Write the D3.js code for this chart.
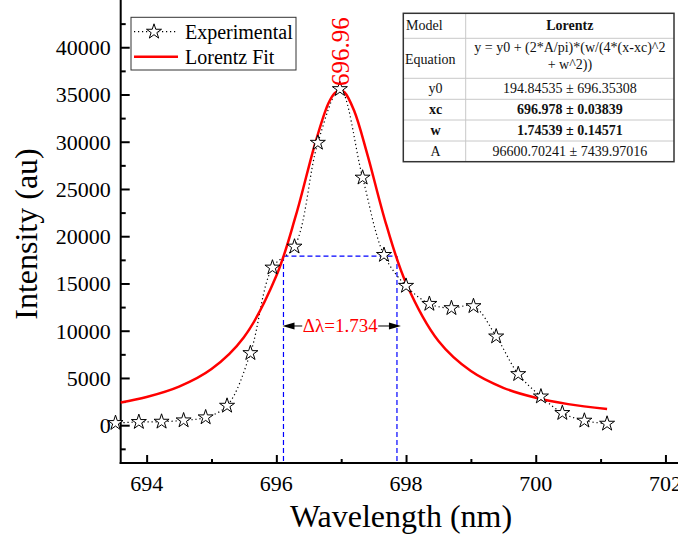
<!DOCTYPE html>
<html>
<head>
<meta charset="utf-8">
<script src="https://cdn.jsdelivr.net/npm/d3@7"></script>
<style>
  body { margin: 0; background: #fff; }
  svg { display: block; font-family: "Liberation Serif", "Times New Roman", serif; }
</style>
</head>
<body>
<svg id="chart" width="678" height="536"></svg>
<script>
// measured points (stars)
const wavelength = [693.52, 693.88, 694.23, 694.57, 694.91, 695.24, 695.60, 695.94, 696.28, 696.64, 696.98, 697.33,
    697.66, 698.00, 698.36, 698.70, 699.04, 699.39, 699.73, 700.08, 700.41, 700.75, 701.10];
const intensity = [230, 340, 370, 510, 830, 2060, 7630, 16680, 18900, 29890, 35570, 26200,
    18020, 14750, 12840, 12390, 12600, 9390, 5410, 3040, 1290, 480, 160];

// red fit curve
const fitWavelength = [693.6, 694.0, 694.5, 695.0, 695.5, 696.0, 696.3, 696.6, 696.8, 696.9, 696.98, 697.05, 697.2,
    697.4, 697.7, 698.0, 698.5, 699.0, 699.5, 700.0, 700.5, 701.1];
const fitIntensity = [2400, 2980, 4080, 5940, 9310, 15810, 22170, 29860, 34020, 35150, 35430, 35240, 33280,
    28750, 21110, 15050, 8910, 5730, 3960, 2910, 2230, 1710];

const xTicks = [694, 696, 698, 700, 702];
const xMinor = [695, 697, 699, 701];
const yTicks = [0, 5000, 10000, 15000, 20000, 25000, 30000, 35000, 40000];
const yMinor = [-2500, 2500, 7500, 12500, 17500, 22500, 27500, 32500, 37500, 42500];

// FWHM box and labels
const fwhmBounds = [696.11, 697.86];
const halfMax = 17900;
const arrowLevel = 10500;
const fwhmLabel = "\u0394\u03bb=1.734";
const peakLabel = "696.96";

const legendItems = ["Experimental", "Lorentz Fit"];
const tableRows = [
    ["y0", "194.84535 \u00b1 696.35308", false],
    ["xc", "696.978 \u00b1 0.03839", true],
    ["w", "1.74539 \u00b1 0.14571", true],
    ["A", "96600.70241 \u00b1 7439.97016", false]
];
const equationLines = ["y = y0 + (2*A/pi)*(w/(4*(x-xc)^2", "+ w^2))"];

const serif = "'Liberation Serif', 'Times New Roman', serif";

let svg = d3.select("#chart");

let xScale = d3.scaleLinear().domain([693.6, 703.6]).range([120.7, 769.2]);
let yScale = d3.scaleLinear().domain([-4000, 45000]).range([463, 0]);

// axes (ticks point inward)
let xAxisG = svg.append("g").attr("transform", "translate(0,463)");
xAxisG.call(d3.axisTop(xScale).tickValues(xTicks).tickSize(8).tickFormat(""));
xAxisG.append("g").call(d3.axisTop(xScale).tickValues(xMinor).tickSize(4).tickFormat(""));
xAxisG.selectAll(".domain").remove();
xAxisG.selectAll("line").attr("stroke", "#000").attr("stroke-width", 2);
xAxisG.append("line").attr("x1", 119.7).attr("x2", 678).attr("stroke", "#000").attr("stroke-width", 2);
xAxisG.selectAll("text.xl").data(xTicks).join("text")
    .attr("class", "xl")
    .attr("x", d => xScale(d)).attr("y", 28)
    .attr("text-anchor", "middle")
    .attr("font-family", serif)
    .attr("font-size", 22)
    .attr("fill", "#000")
    .text(d => d);

let yAxisG = svg.append("g").attr("transform", "translate(120.7,0)");
yAxisG.call(d3.axisRight(yScale).tickValues(yTicks).tickSize(9).tickFormat(""));
yAxisG.append("g").call(d3.axisRight(yScale).tickValues(yMinor).tickSize(5).tickFormat(""));
yAxisG.selectAll(".domain").remove();
yAxisG.selectAll("line").attr("stroke", "#000").attr("stroke-width", 2);
yAxisG.append("line").attr("y1", 0).attr("y2", 464).attr("stroke", "#000").attr("stroke-width", 2);
yAxisG.selectAll("text.yl").data(yTicks).join("text")
    .attr("class", "yl")
    .attr("x", -10).attr("y", d => yScale(d) + 8)
    .attr("text-anchor", "end")
    .attr("font-family", serif)
    .attr("font-size", 22)
    .attr("fill", "#000")
    .text(d => d);

// axis titles
svg.append("text")
    .attr("x", 401).attr("y", 527)
    .attr("text-anchor", "middle")
    .attr("font-size", 32)
    .text("Wavelength (nm)");
svg.append("text")
    .attr("transform", "translate(37,234) rotate(-90)")
    .attr("text-anchor", "middle")
    .attr("font-size", 32)
    .text("Intensity (au)");

// FWHM dashed box
let fwhmG = svg.append("g")
    .attr("fill", "none")
    .attr("stroke", "#0000ff")
    .attr("stroke-width", 1.2)
    .attr("stroke-dasharray", "5,3");
fwhmG.append("line")
    .attr("x1", xScale(fwhmBounds[0])).attr("x2", xScale(fwhmBounds[1]))
    .attr("y1", yScale(halfMax)).attr("y2", yScale(halfMax));
fwhmBounds.forEach(b => {
    fwhmG.append("line")
        .attr("x1", xScale(b)).attr("x2", xScale(b))
        .attr("y1", yScale(halfMax)).attr("y2", 462);
});

// experimental dotted line
let points = wavelength.map((w, i) => [w, intensity[i]]);
let line = d3.line()
    .x(d => xScale(d[0]))
    .y(d => yScale(d[1]))
    .curve(d3.curveCatmullRom);
svg.append("path")
    .datum(points)
    .attr("d", line)
    .attr("fill", "none")
    .attr("stroke", "#000")
    .attr("stroke-width", 1.2)
    .attr("stroke-dasharray", "1.2,2.8");

// Lorentz fit
let fitPoints = fitWavelength.map((w, i) => [w, fitIntensity[i]]);
svg.append("path")
    .datum(fitPoints)
    .attr("d", line)
    .attr("fill", "none")
    .attr("stroke", "#ff0000")
    .attr("stroke-width", 2.5);

// stars
let star = d3.symbol().type(d3.symbolStar).size(70);
svg.append("g").selectAll("path")
    .data(points)
    .join("path")
    .attr("d", star)
    .attr("transform", d => "translate(" + xScale(d[0]) + "," + yScale(d[1]) + ")")
    .attr("fill", "#fff")
    .attr("stroke", "#000")
    .attr("stroke-width", 1);

// width annotation with arrows
let ay = yScale(arrowLevel);
let xl = xScale(fwhmBounds[0]), xr = xScale(fwhmBounds[1]);
let labelMid = (xl + xr) / 2;
svg.append("line").attr("x1", xl + 8).attr("x2", labelMid - 38).attr("y1", ay).attr("y2", ay)
    .attr("stroke", "#000").attr("stroke-width", 1);
svg.append("line").attr("x1", labelMid + 38).attr("x2", xr - 8).attr("y1", ay).attr("y2", ay)
    .attr("stroke", "#000").attr("stroke-width", 1);
svg.append("path")
    .attr("d", `M${xl - 1},${ay} L${xl + 11},${ay - 3.5} L${xl + 11},${ay + 3.5} Z`)
    .attr("fill", "#000");
svg.append("path")
    .attr("d", `M${xr + 4},${ay} L${xr - 8},${ay - 3.5} L${xr - 8},${ay + 3.5} Z`)
    .attr("fill", "#000");
svg.append("text")
    .attr("x", labelMid).attr("y", ay + 6)
    .attr("text-anchor", "middle")
    .attr("font-size", 19)
    .attr("fill", "#ff0000")
    .text(fwhmLabel);

// peak label
svg.append("text")
    .attr("transform", "translate(" + (xScale(696.98) + 9) + ",86) rotate(-90)")
    .attr("font-size", 25)
    .attr("fill", "#ff0000")
    .text(peakLabel);

// legend
let legend = svg.append("g");
legend.append("rect")
    .attr("x", 131).attr("y", 17.3).attr("width", 165).attr("height", 52.7)
    .attr("fill", "#fff").attr("stroke", "#333").attr("stroke-width", 1);
legend.append("line")
    .attr("x1", 134).attr("x2", 178).attr("y1", 31.7).attr("y2", 31.7)
    .attr("stroke", "#000").attr("stroke-width", 1.2).attr("stroke-dasharray", "1.2,2.8");
legend.append("path")
    .attr("d", star)
    .attr("transform", "translate(154,31.7)")
    .attr("fill", "#fff").attr("stroke", "#000").attr("stroke-width", 1);
legend.append("line")
    .attr("x1", 134).attr("x2", 178).attr("y1", 56.7).attr("y2", 56.7)
    .attr("stroke", "#ff0000").attr("stroke-width", 2.5);
legend.selectAll("text").data(legendItems).join("text")
    .attr("x", 185).attr("y", (d, i) => 38.5 + i * 25)
    .attr("font-size", 20)
    .text(d => d);

// parameter table
let tbl = svg.append("g").attr("font-size", 14).attr("fill", "#111");
let tx0 = 403.3, tx1 = 465.7, tx2 = 674;
let rowLines = [38.3, 78.3, 99.3, 120, 141];
tbl.append("rect")
    .attr("x", tx0).attr("y", 13.3).attr("width", tx2 - tx0).attr("height", 161.7 - 13.3)
    .attr("fill", "#fff");
tbl.selectAll("line.r").data(rowLines).join("line")
    .attr("class", "r")
    .attr("x1", tx0).attr("x2", tx2).attr("y1", d => d).attr("y2", d => d)
    .attr("stroke", "#c8c8c8").attr("stroke-width", 1);
tbl.append("line")
    .attr("x1", tx1).attr("x2", tx1).attr("y1", 13.3).attr("y2", 161.7)
    .attr("stroke", "#c8c8c8").attr("stroke-width", 1);
tbl.append("rect")
    .attr("x", tx0).attr("y", 13.3).attr("width", tx2 - tx0).attr("height", 161.7 - 13.3)
    .attr("fill", "none").attr("stroke", "#333").attr("stroke-width", 1.5);

let c2 = (tx1 + tx2) / 2;
tbl.append("text").attr("x", 406).attr("y", 30).text("Model");
tbl.append("text").attr("x", c2).attr("y", 30).attr("text-anchor", "middle")
    .attr("font-weight", "bold").text("Lorentz");
tbl.append("text").attr("x", 405).attr("y", 64).text("Equation");
tbl.selectAll("text.eq").data(equationLines).join("text")
    .attr("class", "eq")
    .attr("x", c2).attr("y", (d, i) => 52.3 + i * 17)
    .attr("text-anchor", "middle")
    .text(d => d);
let rowBase = [93.3, 114.3, 135, 155.5];
tableRows.forEach((r, i) => {
    tbl.append("text").attr("x", 435.5).attr("y", rowBase[i]).attr("text-anchor", "middle")
        .attr("font-weight", r[2] ? "bold" : "normal").text(r[0]);
    tbl.append("text").attr("x", c2).attr("y", rowBase[i]).attr("text-anchor", "middle")
        .attr("font-weight", r[2] ? "bold" : "normal").text(r[1]);
});
</script>
</body>
</html>
